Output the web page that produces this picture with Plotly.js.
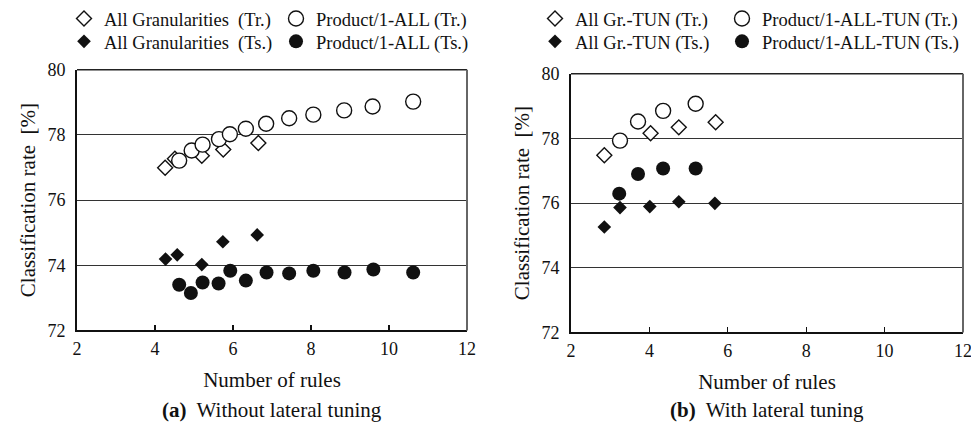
<!DOCTYPE html>
<html>
<head>
<meta charset="utf-8">
<script src="https://cdn.plot.ly/plotly-3.0.1.min.js"></script>
<style>html,body{margin:0;padding:0;background:#fff;}#chart{width:971px;height:425px;}</style>
</head>
<body>
<div id="chart"></div>
<script>
// ---- Panel (a): Without lateral tuning ----
const aGranTrX = [4.26, 4.51, 5.20, 5.75, 6.65];
const aGranTrY = [76.99, 77.27, 77.36, 77.55, 77.75];
const aProdTrX = [4.62, 4.94, 5.22, 5.64, 5.92, 6.33, 6.85, 7.44, 8.06, 8.85, 9.58, 10.62];
const aProdTrY = [77.21, 77.52, 77.70, 77.87, 78.02, 78.19, 78.34, 78.51, 78.62, 78.75, 78.87, 79.02];
const aGranTsX = [4.27, 4.57, 5.20, 5.74, 6.62];
const aGranTsY = [74.19, 74.32, 74.02, 74.72, 74.93];
const aProdTsX = [4.62, 4.92, 5.22, 5.63, 5.93, 6.33, 6.86, 7.44, 8.06, 8.86, 9.60, 10.62];
const aProdTsY = [73.40, 73.15, 73.47, 73.44, 73.83, 73.53, 73.78, 73.75, 73.83, 73.78, 73.87, 73.78];

// ---- Panel (b): With lateral tuning ----
const bGranTrX = [2.85, 4.03, 4.75, 5.69];
const bGranTrY = [77.48, 78.16, 78.34, 78.50];
const bProdTrX = [3.25, 3.71, 4.35, 5.18];
const bProdTrY = [77.93, 78.52, 78.85, 79.07];
const bGranTsX = [2.85, 3.25, 4.01, 4.75, 5.67];
const bGranTsY = [75.26, 75.86, 75.89, 76.04, 75.99];
const bProdTsX = [3.23, 3.71, 4.35, 5.18];
const bProdTsY = [76.29, 76.90, 77.07, 77.07];

const xTicks = [2, 4, 6, 8, 10, 12];
const yTicks = [72, 74, 76, 78, 80];

const aNames = ["All Granularities  (Tr.)", "Product/1-ALL (Tr.)", "All Granularities  (Ts.)", "Product/1-ALL (Ts.)"];
const bNames = ["All Gr.-TUN (Tr.)", "Product/1-ALL-TUN (Tr.)", "All Gr.-TUN (Ts.)", "Product/1-ALL-TUN (Ts.)"];
const captions = ["<b>(a)</b>  Without lateral tuning", "<b>(b)</b>  With lateral tuning"];

const FONT = "Liberation Serif, Times New Roman, serif";
const BLACK = "#111";

function openDiamond(){ return {symbol: "diamond", size: 11.5, color: "#fff", line: {color: BLACK, width: 1.4}}; }
function openCircle(){ return {symbol: "circle", size: 15, color: "#fff", line: {color: BLACK, width: 1.4}}; }
function fullDiamond(){ return {symbol: "diamond", size: 10.5, color: BLACK, line: {color: BLACK, width: 0}}; }
function fullCircle(){ return {symbol: "circle", size: 14, color: BLACK, line: {color: BLACK, width: 0}}; }

function tr(x, y, name, marker, xa, ya, leg){
  return {type: "scatter", mode: "markers", x: x, y: y, name: name, marker: marker,
          xaxis: xa, yaxis: ya, legend: leg, showlegend: true, hoverinfo: "skip"};
}

const data = [
  tr(aGranTrX, aGranTrY, aNames[0], openDiamond(), "x", "y", "legend"),
  tr(aProdTrX, aProdTrY, aNames[1], openCircle(), "x", "y", "legend2"),
  tr(aGranTsX, aGranTsY, aNames[2], fullDiamond(), "x", "y", "legend3"),
  tr(aProdTsX, aProdTsY, aNames[3], fullCircle(), "x", "y", "legend4"),
  tr(bGranTrX, bGranTrY, bNames[0], openDiamond(), "x2", "y2", "legend5"),
  tr(bProdTrX, bProdTrY, bNames[1], openCircle(), "x2", "y2", "legend6"),
  tr(bGranTsX, bGranTsY, bNames[2], fullDiamond(), "x2", "y2", "legend7"),
  tr(bProdTsX, bProdTsY, bNames[3], fullCircle(), "x2", "y2", "legend8")
];

function xaxis(domain, anchor){
  return {domain: domain, anchor: anchor, range: [2, 12], tickvals: xTicks, ticktext: xTicks.map(String),
    ticks: "inside", ticklen: 5, tickwidth: 1.2, tickcolor: BLACK, ticklabelstandoff: 1,
    ticklabeloverflow: "allow",
    showgrid: false, zeroline: false, showline: true, linewidth: 2, linecolor: BLACK,
    tickfont: {family: FONT, size: 18, color: BLACK},
    title: {text: "Number of rules", font: {family: FONT, size: 21, color: BLACK}, standoff: 14}};
}
function yaxis(domain, anchor){
  return {domain: domain, anchor: anchor, range: [72, 80], tickvals: yTicks, ticktext: yTicks.map(String),
    ticks: "", ticklabelstandoff: 6,
    showgrid: true, gridcolor: "#333", gridwidth: 1, zeroline: false, showline: true, linewidth: 2, linecolor: BLACK,
    tickfont: {family: FONT, size: 18, color: BLACK},
    title: {text: "Classification rate  [%]", font: {family: FONT, size: 21, color: BLACK}, standoff: 6}};
}

function leg(x, y){
  return {x: x, y: y, xanchor: "left", yanchor: "middle", bgcolor: "rgba(0,0,0,0)", borderwidth: 0,
    font: {family: FONT, size: 18.5, color: BLACK}, itemclick: false, itemdoubleclick: false};
}

const layout = {
  width: 971, height: 425,
  margin: {l: 0, r: 0, t: 0, b: 0},
  paper_bgcolor: "#fff", plot_bgcolor: "#fff",
  showlegend: true,
  xaxis: xaxis([77/971, 467/971], "y"),
  yaxis: yaxis([1 - 330/425, 1 - 68/425], "x"),
  xaxis2: xaxis([571/971, 963/971], "y2"),
  yaxis2: yaxis([1 - 332/425, 1 - 72/425], "x2"),
  legend: leg(64/971, 1 - 17/425),
  legend2: leg(276/971, 1 - 17/425),
  legend3: leg(64/971, 1 - 40/425),
  legend4: leg(276/971, 1 - 40/425),
  legend5: leg(535/971, 1 - 17/425),
  legend6: leg(722/971, 1 - 17/425),
  legend7: leg(535/971, 1 - 40/425),
  legend8: leg(722/971, 1 - 40/425),
  shapes: [
    {type: "line", xref: "x domain", yref: "y domain", x0: 0, x1: 1, y0: 1, y1: 1, line: {color: "#222", width: 1.5}},
    {type: "line", xref: "x domain", yref: "y domain", x0: 1, x1: 1, y0: 0, y1: 1, line: {color: "#666", width: 2}},
    {type: "line", xref: "x2 domain", yref: "y2 domain", x0: 0, x1: 1, y0: 1, y1: 1, line: {color: "#222", width: 1.5}},
    {type: "line", xref: "x2 domain", yref: "y2 domain", x0: 1, x1: 1, y0: 0, y1: 1, line: {color: "#666", width: 2}}
  ],
  annotations: [
    {text: captions[0], xref: "paper", yref: "paper", x: 272/971, y: 1 - 410/425, xanchor: "center", yanchor: "middle",
     showarrow: false, font: {family: FONT, size: 21, color: BLACK}},
    {text: captions[1], xref: "paper", yref: "paper", x: 767/971, y: 1 - 410/425, xanchor: "center", yanchor: "middle",
     showarrow: false, font: {family: FONT, size: 21, color: BLACK}}
  ]
};

Plotly.newPlot("chart", data, layout, {staticPlot: true, displayModeBar: false});
</script>
</body>
</html>
